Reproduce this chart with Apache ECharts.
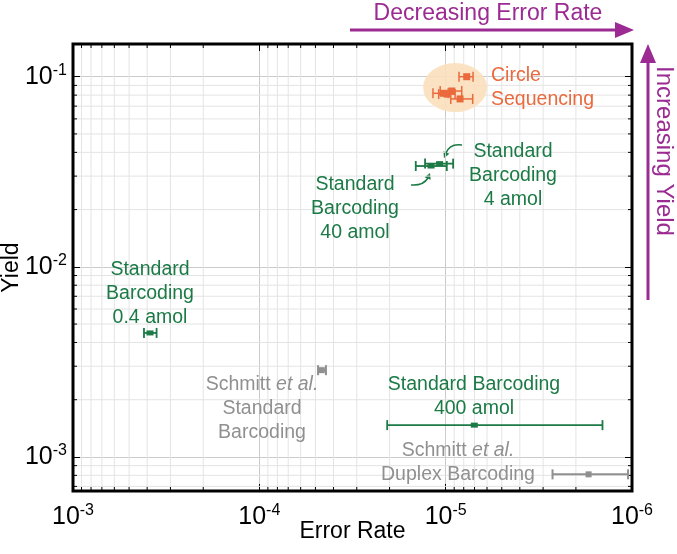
<!DOCTYPE html>
<html><head><meta charset="utf-8">
<script src="https://cdn.jsdelivr.net/npm/echarts@6/dist/echarts.min.js"></script>
<style>html,body{margin:0;padding:0;background:#fff}#c{width:677px;height:554px}</style>
</head><body><div id="c"></div>
<script>
// ---- data (error rate, yield, error-rate whisker A, whisker B) ----
const circleSeq = [
  [7.71e-6, 0.100, 7.13e-6, 8.48e-6],
  [1.03e-5, 0.0818, 9.7e-6, 1.17e-5],
  [9.83e-6, 0.0810, 8.9e-6, 1.09e-5],
  [9.27e-6, 0.0841, 8.2e-6, 1.07e-5],
  [8.37e-6, 0.0764, 7.16e-6, 9.39e-6]
];
const circleHalo = [[8.9e-6, 0.0877]];
const stdBarcoding = [
  [1.198e-5, 0.0339, 9.86e-6, 1.447e-5],  // 40 amol
  [1.078e-5, 0.0349, 9.12e-6, 1.29e-5],   // 4 amol
  [3.86e-4, 0.00449, 3.56e-4, 4.16e-4],   // 0.4 amol
  [7.02e-6, 0.00147, 1.44e-6, 2.06e-5]    // 400 amol
];
const schmitt = [
  [4.62e-5, 0.00286, 4.39e-5, 4.84e-5],   // standard
  [1.71e-6, 0.00081, 1.05e-6, 2.67e-6]    // duplex
];
const xRange = [1e-6, 1e-3];
const yRange = [6.62e-4, 0.1486];
const tickExponents = {'-6':'-6','-5':'-5','-4':'-4','-3':'-3','-2':'-2','-1':'-1'};

const ORANGE = '#ea6a3d', HALO = '#fbdfbc', GREEN = '#1b7a45', GRAY = '#909090', PURPLE = '#9b2b92';
const FONT = 'Liberation Sans';
const FS = 19.5;

// minor gridline positions (2..9 within each decade)
const xMinor = [], yMinor = [];
for (let e = -6; e < -3; e++) for (let m = 2; m <= 9; m++) xMinor.push(m * Math.pow(10, e));
for (let e = -4; e < 0; e++) for (let m = 2; m <= 9; m++) { const v = m * Math.pow(10, e); if (v > yRange[0] && v < yRange[1]) yMinor.push(v); }

function supLabel(v) {
  const e = String(Math.round(Math.log10(v)));
  return '{b|10}{s|' + (tickExponents[e] || e) + '}';
}
const labelRich = {
  b: {fontSize: 25, fontFamily: FONT, color: '#000'},
  s: {fontSize: 16, fontFamily: FONT, color: '#000', padding: [0, 0, 13, 0]}
};

function gridLines(vals, vertical) {
  return {
    type: 'custom', silent: true, z: 1,
    data: vals.map(v => vertical ? [v, yRange[0]] : [xRange[0], v]),
    renderItem: function (params, api) {
      const v = api.value(vertical ? 0 : 1);
      let a, b;
      if (vertical) { a = api.coord([v, yRange[0]]); b = api.coord([v, yRange[1]]); }
      else { a = api.coord([xRange[1], v]); b = api.coord([xRange[0], v]); }
      const t = 4;
      const children = [{type: 'line', shape: {x1: a[0], y1: a[1], x2: b[0], y2: b[1]}, style: {stroke: '#e4e4e4', lineWidth: 1}}];
      if (vertical) {
        children.push({type: 'line', shape: {x1: a[0], y1: a[1], x2: a[0], y2: a[1] - t}, style: {stroke: '#000', lineWidth: 1}});
        children.push({type: 'line', shape: {x1: b[0], y1: b[1], x2: b[0], y2: b[1] + t}, style: {stroke: '#000', lineWidth: 1}});
      } else {
        children.push({type: 'line', shape: {x1: a[0], y1: a[1], x2: a[0] + t, y2: a[1]}, style: {stroke: '#000', lineWidth: 1}});
        children.push({type: 'line', shape: {x1: b[0], y1: b[1], x2: b[0] - t, y2: b[1]}, style: {stroke: '#000', lineWidth: 1}});
      }
      return {type: 'group', children: children};
    }
  };
}

function errorBars(data, color, cap, sq, lw) {
  return {
    type: 'custom', z: 5,
    encode: {x: 0, y: 1},
    data: data,
    renderItem: function (params, api) {
      const y = api.value(1);
      const p = api.coord([api.value(0), y]);
      const l = api.coord([api.value(2), y]);
      const r = api.coord([api.value(3), y]);
      return {type: 'group', children: [
        {type: 'line', shape: {x1: l[0], y1: l[1], x2: r[0], y2: r[1]}, style: {stroke: color, lineWidth: lw}},
        {type: 'line', shape: {x1: l[0], y1: l[1] - cap, x2: l[0], y2: l[1] + cap}, style: {stroke: color, lineWidth: lw}},
        {type: 'line', shape: {x1: r[0], y1: r[1] - cap, x2: r[0], y2: r[1] + cap}, style: {stroke: color, lineWidth: lw}},
        {type: 'rect', shape: {x: p[0] - sq[0] / 2, y: p[1] - sq[1] / 2, width: sq[0], height: sq[1]}, style: {fill: color}}
      ]};
    }
  };
}

function arrowHead(tip, from, size, color) {
  const dx = tip[0] - from[0], dy = tip[1] - from[1];
  const L = Math.sqrt(dx * dx + dy * dy); const ux = dx / L, uy = dy / L;
  const bx = tip[0] - ux * size, by = tip[1] - uy * size;
  const w = size * 0.55;
  return {type: 'polygon', shape: {points: [tip, [bx - uy * w, by + ux * w], [bx + uy * w, by - ux * w]]}, style: {fill: color}};
}

const txt = (x, y, text, color, align) => ({
  type: 'text', x: x, y: y, z: 10,
  style: {text: text, fill: color, font: FS + 'px "' + FONT + '"', textAlign: align || 'center', textVerticalAlign: 'top', lineHeight: 24}
});
const grayRich = {rich: {n: {fontSize: FS, fontFamily: FONT, fill: GRAY, lineHeight: 24}, i: {fontSize: FS, fontFamily: FONT, fontStyle: 'italic', fill: GRAY, lineHeight: 24}}};

const axisCommon = {
  type: 'log', logBase: 10,
  axisLine: {show: false},
  axisTick: {show: true, inside: true, length: 7, lineStyle: {color: '#000', width: 1}},
  splitLine: {show: true, lineStyle: {color: '#cbcbcb', width: 1}}
};

const chart = echarts.init(document.getElementById('c'), null, {renderer: 'canvas'});
chart.setOption({
  animation: false,
  backgroundColor: '#fff',
  grid: {left: 73, right: 45, top: 44, bottom: 63, show: true, borderColor: '#000', borderWidth: 3, z: 20,
         containLabel: false, outerBoundsMode: 'none'},
  xAxis: [
    Object.assign({}, axisCommon, {
      min: xRange[0], max: xRange[1], inverse: true, position: 'bottom',
      name: 'Error Rate', nameLocation: 'middle', nameGap: 29, nameMoveOverlap: false,
      nameTextStyle: {fontSize: 23, fontFamily: FONT, color: '#000'},
      axisLabel: {margin: 12, formatter: supLabel, rich: labelRich}
    }),
    Object.assign({}, axisCommon, {
      min: xRange[0], max: xRange[1], inverse: true, position: 'top',
      axisLabel: {show: false}, splitLine: {show: false}
    })
  ],
  yAxis: [
    Object.assign({}, axisCommon, {
      min: yRange[0], max: yRange[1], position: 'left',
      name: 'Yield', nameLocation: 'middle', nameGap: 50, nameMoveOverlap: false,
      nameTextStyle: {fontSize: 23, fontFamily: FONT, color: '#000'},
      axisLabel: {margin: 6, formatter: supLabel, rich: labelRich, showMinLabel: false, showMaxLabel: false}
    }),
    Object.assign({}, axisCommon, {
      min: yRange[0], max: yRange[1], position: 'right',
      axisLabel: {show: false}, splitLine: {show: false}
    })
  ],
  series: [
    gridLines(xMinor, true),
    gridLines(yMinor, false),
    {type: 'scatter', z: 3, data: circleHalo, symbol: 'circle', symbolSize: [64, 49], itemStyle: {color: HALO, opacity: 0.9}, silent: true},
    errorBars(circleSeq, ORANGE, 5, [7, 7], 1.5),
    errorBars(stdBarcoding, GREEN, 5, [7, 5], 1.8),
    errorBars(schmitt, GRAY, 5, [6, 6], 2)
  ],
  graphic: [
    txt(491, 64, 'Circle\nSequencing', ORANGE, 'left'),
    txt(513, 140, 'Standard\nBarcoding\n4 amol', GREEN),
    txt(355, 173, 'Standard\nBarcoding\n40 amol', GREEN),
    txt(150, 258, 'Standard\nBarcoding\n0.4 amol', GREEN),
    txt(474, 373, 'Standard Barcoding\n400 amol', GREEN),
    {type: 'text', x: 262, y: 373, z: 10, style: Object.assign({text: '{n|Schmitt }{i|et al.}\n{n|Standard}\n{n|Barcoding}', textAlign: 'center', textVerticalAlign: 'top'}, grayRich)},
    {type: 'text', x: 458, y: 439, z: 10, style: Object.assign({text: '{n|Schmitt }{i|et al.}\n{n|Duplex Barcoding}', textAlign: 'center', textVerticalAlign: 'top'}, grayRich)},
    // curved pointer arrows
    {type: 'bezierCurve', z: 10, shape: {x1: 462, y1: 145, cpx1: 450, cpy1: 143, x2: 446, y2: 153}, style: {stroke: GREEN, lineWidth: 1.5, fill: null}},
    arrowHead([444, 158], [447, 151], 6, GREEN),
    {type: 'bezierCurve', z: 10, shape: {x1: 411, y1: 185, cpx1: 423, cpy1: 186, x2: 428, y2: 178}, style: {stroke: GREEN, lineWidth: 1.5, fill: null}},
    arrowHead([430, 173], [427, 180], 6, GREEN),
    // purple direction arrows
    {type: 'text', x: 488, y: 14, z: 10, style: {text: 'Decreasing Error Rate', fill: PURPLE, font: '23px "' + FONT + '"', textAlign: 'center', textVerticalAlign: 'middle'}},
    {type: 'line', z: 10, shape: {x1: 350, y1: 30, x2: 620, y2: 30}, style: {stroke: PURPLE, lineWidth: 3}},
    {type: 'polygon', z: 10, shape: {points: [[634, 30], [615, 22], [615, 38]]}, style: {fill: PURPLE}},
    {type: 'line', z: 10, shape: {x1: 648, y1: 300, x2: 648, y2: 58}, style: {stroke: PURPLE, lineWidth: 3}},
    {type: 'polygon', z: 10, shape: {points: [[648, 44], [640, 63], [656, 63]]}, style: {fill: PURPLE}},
    {type: 'text', x: 664, y: 151, z: 10, rotation: -Math.PI / 2, style: {text: 'Increasing Yield', fill: PURPLE, font: '24px "' + FONT + '"', textAlign: 'center', textVerticalAlign: 'middle'}}
  ]
});
</script></body></html>
